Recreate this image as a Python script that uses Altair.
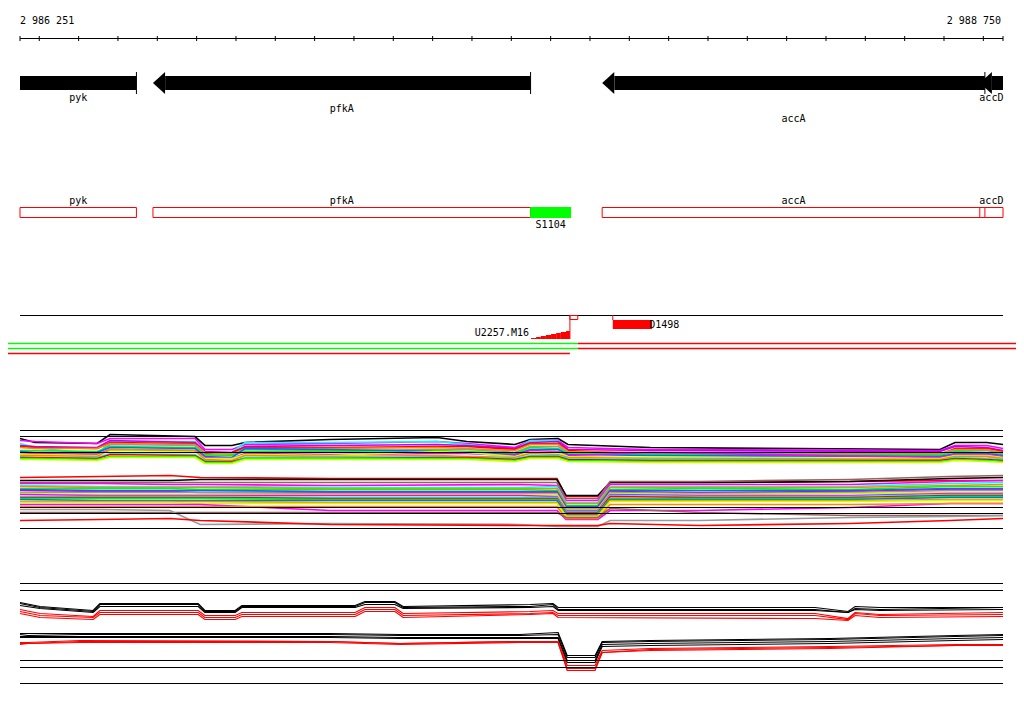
import altair as alt
import pandas as pd

# ---------------- data ----------------
LO = 2986251
HI = 2988750
axis_label_bp = [LO, HI]
axis_label_text = ["2 986 251", "2 988 750"]
tick_bp = [LO] + list(range(2986300, 2988701, 100)) + [HI]

gene_names = ["pyk", "pfkA", "accA", "accD"]
gene_start = [2984789, 2986589, 2987731, 2988691]
gene_end = [2986547, 2987549, 2988704, 2989564]
gene_lane = [0, 1, 2, 0]

seg_names = ["S1104"]
seg_start = [2987548]
seg_end = [2987652]

tss_name = ["U2257.M16"]
tss_left = [2987550, 2987563, 2987575, 2987588, 2987601, 2987614, 2987626, 2987639]
tss_right = [2987563, 2987575, 2987588, 2987601, 2987614, 2987626, 2987639, 2987649]
tss_counts = [1, 2, 3, 4, 5, 6, 7, 8]
tss_pos = [2987649]
tss_box_end = [2987669]

term_name = ["D1498"]
term_start = [2987758]
term_end = [2987858]

cond_split = [2987669]
cond_red_end = [2987649]

# upper expression panel (signal units), knots
up_bp = [2986251, 2986289, 2986447, 2986480, 2986696, 2986721, 2986790, 2986823, 2987039, 2987311,
         2987387, 2987509, 2987548, 2987619, 2987644, 2987853, 2988590, 2988628, 2988709, 2988750]
up_black = [90, 86, 85, 94, 92, 83, 83, 86, 89, 91, 87, 84, 89, 90, 84, 81, 79, 86, 86, 84]
up_magenta = [88, 87, 85, 90, 90, 79, 79, 84, 85, 87, 85, 81, 88, 88, 81, 79, 78, 83, 83, 80]
up_cyan = [85, 81, 74, 87, 87, 76, 76, 86, 86, 87, 84, 79, 88, 88, 70, 69, 69, 72, 72, 69]
up_purple = [83, 82, 81, 88, 86, 77, 76, 82, 83, 84, 83, 80, 86, 87, 79, 78, 77, 82, 81, 78]
up_red = [82, 81, 80, 86, 85, 75, 76, 81, 81, 82, 82, 79, 85, 85, 78, 74, 74, 80, 80, 77]
up_orange = [81, 80, 80, 85, 84, 76, 74, 80, 80, 81, 80, 78, 84, 84, 77, 76, 75, 79, 79, 76]
up_gray = [76, 76, 75, 84, 83, 74, 73, 79, 78, 79, 79, 76, 82, 82, 76, 75, 74, 78, 78, 75]
up_green = [78, 78, 77, 82, 81, 73, 73, 77, 77, 78, 77, 75, 81, 80, 75, 74, 73, 77, 76, 74]
up_blue = [77, 76, 76, 81, 80, 72, 71, 80, 79, 77, 76, 74, 79, 79, 74, 73, 72, 75, 75, 73]
up_magenta2 = [76, 75, 74, 79, 78, 71, 70, 75, 74, 75, 75, 73, 78, 77, 73, 76, 71, 74, 74, 72]
up_lime = [74, 74, 73, 78, 77, 70, 70, 74, 73, 77, 76, 72, 76, 76, 72, 71, 70, 73, 73, 71]
up_orange2 = [73, 73, 72, 79, 78, 69, 68, 73, 72, 73, 72, 71, 75, 74, 71, 70, 69, 72, 72, 70]
up_cyan2 = [72, 71, 71, 75, 74, 68, 67, 71, 71, 72, 71, 70, 73, 73, 70, 69, 68, 71, 70, 69]
up_red2 = [71, 71, 70, 74, 73, 67, 67, 70, 70, 71, 71, 69, 72, 72, 69, 68, 68, 70, 69, 68]
up_green2 = [70, 70, 69, 72, 72, 66, 66, 70, 70, 70, 70, 68, 71, 71, 68, 67, 67, 69, 68, 67]
up_lime2 = [69, 69, 68, 71, 71, 65, 65, 69, 69, 69, 69, 67, 70, 70, 67, 66, 66, 68, 67, 66]

lo_bp = [2986251, 2986454, 2986632, 2986709, 2987039, 2987522, 2987616, 2987639, 2987720, 2987751,
         2987980, 2988361, 2988615, 2988750]
lo_red = [51, 52, 53, 51, 50, 50, 50, 32, 32, 46, 46, 47, 48, 48]
lo_black = [48, 48, 48, 49, 49, 49, 49, 33, 33, 46, 46, 47, 50, 51]
lo_brown = [46, 46, 46, 46, 46, 46, 46, 30, 30, 47, 47, 49, 52, 53]
lo_magenta = [45, 45, 44, 44, 43, 44, 43, 28, 28, 44, 44, 44, 47, 48]
lo_cyan = [43, 42, 42, 42, 41, 41, 42, 26, 26, 42, 42, 42, 45, 46]
lo_orange = [42, 41, 41, 41, 40, 40, 40, 25, 25, 41, 41, 41, 43, 44]
lo_green = [40, 40, 40, 39, 39, 39, 38, 23, 23, 39, 40, 39, 42, 42]
lo_blue = [39, 38, 38, 38, 37, 37, 37, 22, 22, 38, 38, 38, 40, 40]
lo_purple = [38, 37, 37, 36, 36, 36, 36, 21, 21, 37, 36, 37, 39, 39]
lo_gray = [36, 36, 36, 36, 35, 35, 35, 20, 20, 36, 35, 36, 38, 38]
lo_lime = [35, 34, 34, 34, 34, 34, 34, 19, 19, 35, 34, 35, 36, 36]
lo_magenta2 = [34, 33, 33, 33, 33, 33, 32, 18, 18, 34, 33, 33, 35, 35]
lo_cyan2 = [32, 32, 32, 32, 31, 31, 31, 17, 17, 33, 32, 32, 34, 34]
lo_red2 = [31, 31, 31, 31, 30, 30, 30, 16, 16, 32, 31, 31, 33, 33]
lo_green2 = [30, 30, 30, 30, 29, 29, 29, 15, 15, 30, 30, 30, 32, 32]
lo_blue2 = [29, 28, 28, 28, 28, 28, 28, 14, 14, 29, 29, 29, 31, 31]
lo_orange2 = [27, 27, 27, 27, 26, 26, 26, 13, 13, 28, 28, 28, 29, 29]
lo_lime2 = [26, 26, 26, 25, 25, 25, 25, 12, 12, 27, 27, 27, 28, 28]
lo_magenta3 = [24, 24, 24, 24, 18, 18, 18, 9, 9, 18, 18, 21, 25, 25]
lo_orange3 = [22, 22, 22, 22, 22, 22, 22, 10, 10, 24, 24, 24, 25, 25]
lo_brown2 = [16, 16, 16, 16, 16, 16, 16, 11, 11, 20, 16, 13, 13, 13]
lo_gray2 = [19, 19, 18, 4, 5, 4, 2, 2, 2, 8, 8, 11, 12, 13]
lo_red3 = [8, 9, 10, 8, 4, 3, 3, 3, 3, 5, 3, 5, 8, 10]

up_ref_levels = [98, 92, 76, 21, 15, 0]

# bottom panel
ba_bp = [2986251, 2986302, 2986437, 2986454, 2986704, 2986721, 2986798, 2986815, 2987103, 2987128,
         2987204, 2987225, 2987548, 2987606, 2987619, 2988272, 2988356, 2988374, 2988437, 2988750]
ba_black1 = [81, 77, 73, 80, 80, 73, 73, 78, 78, 82, 82, 77, 79, 80, 76, 76, 72, 77, 76, 76]
ba_black2 = [80, 76, 72, 79, 79, 72, 72, 77, 77, 81, 81, 76, 77, 79, 74, 74, 71, 75, 74, 76]
ba_black3 = [78, 75, 71, 77, 77, 71, 71, 76, 76, 79, 79, 75, 76, 77, 73, 73, 71, 74, 73, 74]
ba_red1 = [74, 70, 67, 73, 73, 68, 68, 71, 71, 76, 76, 70, 72, 73, 70, 70, 65, 71, 69, 71]
ba_red2 = [72, 68, 66, 71, 71, 66, 66, 69, 69, 74, 74, 68, 70, 71, 68, 68, 64, 70, 68, 69]
ba_red3 = [70, 66, 64, 69, 69, 64, 64, 67, 67, 72, 72, 66, 69, 70, 66, 65, 63, 68, 66, 67]

bb_bp = [2986251, 2986271, 2986404, 2987039, 2987217, 2987522, 2987619, 2987642, 2987713, 2987731,
         2987853, 2988310, 2988628, 2988750]
bb_black1 = [50, 50, 50, 50, 49, 49, 51, 28, 28, 42, 43, 45, 48, 49]
bb_black2 = [49, 48, 49, 49, 48, 48, 49, 26, 26, 41, 42, 44, 47, 48]
bb_black3 = [47, 47, 47, 47, 46, 46, 46, 23, 23, 39, 40, 42, 45, 46]
bb_black4 = [46, 46, 46, 46, 45, 45, 45, 21, 21, 37, 38, 40, 43, 44]
bb_red1 = [41, 41, 43, 42, 40, 42, 42, 18, 18, 33, 35, 37, 39, 39]
bb_red2 = [39, 40, 41, 41, 39, 41, 41, 15, 15, 31, 33, 35, 38, 38]
bb_red3 = [40, 40, 42, 42, 40, 42, 41, 13, 13, 31, 34, 36, 38, 39]

bottom_ref_levels = [100, 93, 23, 16, 0]

# ---------------- styles ----------------
FONT = "DejaVu Sans Mono"
HEAD_BP = 31  # arrow-head length (12 px) in bp
PAL = {"black": "#000000", "magenta": "#ff00ff", "cyan": "#00ffff", "purple": "#c000ff",
       "red": "#ff0000", "orange": "#ff8800", "gray": "#999999", "green": "#00ff00",
       "blue": "#0070ff", "lime": "#ccff00", "brown": "#9a6060"}

upper_series = [
    ("up_black", up_bp, up_black, "black"), ("up_magenta", up_bp, up_magenta, "magenta"),
    ("up_cyan", up_bp, up_cyan, "cyan"), ("up_purple", up_bp, up_purple, "purple"),
    ("up_red", up_bp, up_red, "red"), ("up_orange", up_bp, up_orange, "orange"),
    ("up_gray", up_bp, up_gray, "gray"), ("up_green", up_bp, up_green, "green"),
    ("up_blue", up_bp, up_blue, "blue"), ("up_magenta2", up_bp, up_magenta2, "magenta"),
    ("up_lime", up_bp, up_lime, "lime"), ("up_orange2", up_bp, up_orange2, "orange"),
    ("up_cyan2", up_bp, up_cyan2, "cyan"), ("up_red2", up_bp, up_red2, "red"),
    ("up_green2", up_bp, up_green2, "green"), ("up_lime2", up_bp, up_lime2, "lime"),
    ("lo_red", lo_bp, lo_red, "red"), ("lo_black", lo_bp, lo_black, "black"),
    ("lo_brown", lo_bp, lo_brown, "brown"), ("lo_magenta", lo_bp, lo_magenta, "magenta"),
    ("lo_cyan", lo_bp, lo_cyan, "cyan"), ("lo_orange", lo_bp, lo_orange, "orange"),
    ("lo_green", lo_bp, lo_green, "green"), ("lo_blue", lo_bp, lo_blue, "blue"),
    ("lo_purple", lo_bp, lo_purple, "purple"), ("lo_gray", lo_bp, lo_gray, "gray"),
    ("lo_lime", lo_bp, lo_lime, "lime"), ("lo_magenta2", lo_bp, lo_magenta2, "magenta"),
    ("lo_cyan2", lo_bp, lo_cyan2, "cyan"), ("lo_red2", lo_bp, lo_red2, "red"),
    ("lo_green2", lo_bp, lo_green2, "green"), ("lo_blue2", lo_bp, lo_blue2, "blue"),
    ("lo_orange2", lo_bp, lo_orange2, "orange"), ("lo_lime2", lo_bp, lo_lime2, "lime"),
    ("lo_magenta3", lo_bp, lo_magenta3, "magenta"), ("lo_orange3", lo_bp, lo_orange3, "orange"),
    ("lo_brown2", lo_bp, lo_brown2, "brown"), ("lo_gray2", lo_bp, lo_gray2, "gray"),
    ("lo_red3", lo_bp, lo_red3, "red"),
]
bottom_series = [
    ("ba_black1", ba_bp, ba_black1, "black"), ("ba_black2", ba_bp, ba_black2, "black"),
    ("ba_black3", ba_bp, ba_black3, "black"), ("ba_red1", ba_bp, ba_red1, "red"),
    ("ba_red2", ba_bp, ba_red2, "red"), ("ba_red3", ba_bp, ba_red3, "red"),
    ("bb_black1", bb_bp, bb_black1, "black"), ("bb_black2", bb_bp, bb_black2, "black"),
    ("bb_black3", bb_bp, bb_black3, "black"), ("bb_black4", bb_bp, bb_black4, "black"),
    ("bb_red1", bb_bp, bb_red1, "red"), ("bb_red2", bb_bp, bb_red2, "red"),
    ("bb_red3", bb_bp, bb_red3, "red"),
]


def series_df(series):
    rows = []
    for order, (name, knots, vals, _) in enumerate(series):
        for b, v in zip(knots, vals):
            rows.append({"bp": b, "v": v, "s": name, "o": order})
    return pd.DataFrame(rows)


xs = alt.Scale(domain=[LO, HI], range=[12, 995], nice=False, zero=False)


def X(f):
    return alt.X(f"{f}:Q", scale=xs, axis=None)


def X2(f):
    return alt.X2(f"{f}:Q")


span = pd.DataFrame({"a": [LO], "b": [HI]})
layers = []

# ---- coordinate ruler ----
layers.append(alt.Chart(span).mark_rule(color="black", strokeWidth=1).encode(
    x=X("a"), x2=X2("b"), y=alt.value(30.5)))
layers.append(alt.Chart(pd.DataFrame({"bp": tick_bp})).mark_rule(color="black", strokeWidth=1).encode(
    x=X("bp"), y=alt.value(28), y2=alt.value(33)))
lab = pd.DataFrame({"bp": axis_label_bp, "t": axis_label_text})
layers.append(alt.Chart(lab.iloc[[0]]).mark_text(font=FONT, fontSize=10, align="left",
                                                 baseline="alphabetic", color="black").encode(
    x=X("bp"), y=alt.value(16), text="t:N"))
layers.append(alt.Chart(lab.iloc[[1]]).mark_text(font=FONT, fontSize=10, align="right", dx=-2,
                                                 baseline="alphabetic", color="black").encode(
    x=X("bp"), y=alt.value(16), text="t:N"))

# ---- genes ----
g = pd.DataFrame({"name": gene_names, "start": gene_start, "end": gene_end, "lane": gene_lane})
g["vis_start"] = g["start"].clip(lower=LO)
g["vis_end"] = g["end"].clip(upper=HI)
g["body_start"] = (g["start"] + HEAD_BP).clip(lower=LO)
g["mid"] = (g["vis_start"] + g["vis_end"]) / 2

layers.append(alt.Chart(g).mark_rect(color="black").encode(
    x=X("body_start"), x2=X2("vis_end"), y=alt.value(68), y2=alt.value(82)))
layers.append(alt.Chart(g[g["start"] >= LO]).mark_point(
    shape="M0,0L1.1,-1L1.1,1Z", size=484, filled=True, color="black", opacity=1, strokeWidth=0).encode(
    x=X("start"), y=alt.value(75)))
layers.append(alt.Chart(g[g["end"] <= HI]).mark_rule(color="black", strokeWidth=1).encode(
    x=X("end"), y=alt.value(64), y2=alt.value(86)))
layers.append(alt.Chart(g).mark_text(font=FONT, fontSize=10, baseline="alphabetic", color="black").encode(
    x=X("mid"), y=alt.Y("lane:Q", scale=alt.Scale(domain=[0, 2], range=[93, 114]), axis=None),
    text="name:N"))

# ---- annotation boxes ----
layers.append(alt.Chart(g).mark_rect(fill="white", fillOpacity=0, stroke="#ff0000", strokeWidth=1).encode(
    x=X("vis_start"), x2=X2("vis_end"), y=alt.value(199.5), y2=alt.value(209.5)))
layers.append(alt.Chart(g).mark_text(font=FONT, fontSize=10, baseline="alphabetic", color="black").encode(
    x=X("mid"), y=alt.value(196), text="name:N"))
sdf = pd.DataFrame({"name": seg_names, "start": seg_start, "end": seg_end})
sdf["mid"] = (sdf["start"] + sdf["end"]) / 2
layers.append(alt.Chart(sdf).mark_rect(color="#00ff00").encode(
    x=X("start"), x2=X2("end"), y=alt.value(199), y2=alt.value(210)))
layers.append(alt.Chart(sdf).mark_text(font=FONT, fontSize=10, baseline="alphabetic", color="black").encode(
    x=X("mid"), y=alt.value(219.7), text="name:N"))

# ---- transcript track ----
layers.append(alt.Chart(span).mark_rule(color="black", strokeWidth=1).encode(
    x=X("a"), x2=X2("b"), y=alt.value(307.5)))
stairs = pd.DataFrame({"l": tss_left, "r": tss_right, "c": tss_counts})
layers.append(alt.Chart(stairs).mark_rect(color="#ff0000").encode(
    x=X("l"), x2=X2("r"),
    y=alt.Y("c:Q", scale=alt.Scale(domain=[0, 8], range=[331, 323]), axis=None), y2=alt.value(331)))
tss = pd.DataFrame({"name": tss_name, "pos": tss_pos, "box": tss_box_end, "first": [tss_left[0]]})
layers.append(alt.Chart(tss).mark_rule(color="#ff0000", strokeWidth=1).encode(
    x=X("pos"), y=alt.value(307), y2=alt.value(331)))
layers.append(alt.Chart(tss).mark_rect(fill="white", fillOpacity=0, stroke="#ff0000", strokeWidth=1).encode(
    x=X("pos"), x2=X2("box"), y=alt.value(307.5), y2=alt.value(311.5)))
layers.append(alt.Chart(tss).mark_text(font=FONT, fontSize=10, align="right", dx=-2,
                                       baseline="alphabetic", color="black").encode(
    x=X("first"), y=alt.value(327.7), text="name:N"))
term = pd.DataFrame({"name": term_name, "s": term_start, "e": term_end})
layers.append(alt.Chart(term).mark_rule(color="#ff0000", strokeWidth=1).encode(
    x=X("s"), y=alt.value(307), y2=alt.value(312)))
layers.append(alt.Chart(term).mark_rect(color="#ff0000").encode(
    x=X("s"), x2=X2("e"), y=alt.value(312), y2=alt.value(321)))
layers.append(alt.Chart(term).mark_text(font=FONT, fontSize=10, align="left", dx=-3,
                                        baseline="alphabetic", color="black").encode(
    x=X("e"), y=alt.value(320), text="name:N"))

# ---- condition bars ----
cdf = pd.DataFrame({"split": cond_split, "rend": cond_red_end})
for yy in (335.5, 340.5):
    layers.append(alt.Chart(cdf).mark_rule(color="#00ff00", strokeWidth=1.3).encode(
        x=X("split"), x2=alt.value(0), y=alt.value(yy)))
    layers.append(alt.Chart(cdf).mark_rule(color="#ff0000", strokeWidth=1.3).encode(
        x=X("split"), x2=alt.value(1008), y=alt.value(yy)))
layers.append(alt.Chart(cdf).mark_rule(color="#ff0000", strokeWidth=1.3).encode(
    x=X("rend"), x2=alt.value(0), y=alt.value(345.5)))

# ---- expression panel (upper) ----
up_scale = alt.Scale(domain=[0, 98], range=[520.5, 422.5], nice=False, zero=False)
up_names = [s[0] for s in upper_series]
up_cols = [PAL[s[3]] for s in upper_series]
up_df = series_df(upper_series)
up_lines = alt.Chart(up_df).mark_line(strokeWidth=1.7, interpolate="linear").encode(
    x=X("bp"), y=alt.Y("v:Q", scale=up_scale, axis=None),
    color=alt.Color("s:N", scale=alt.Scale(domain=up_names, range=up_cols), legend=None),
    order=alt.Order("bp:Q"))
up_ref_df = pd.DataFrame({"a": LO, "b": HI, "v": up_ref_levels})
up_refs = alt.Chart(up_ref_df).mark_rule(color="black", strokeWidth=1).encode(
    x=X("a"), x2=X2("b"), y=alt.Y("v:Q", scale=up_scale, axis=None))
upper_panel = alt.layer(up_lines, up_refs)

# ---- expression panel (bottom) ----
bt_scale = alt.Scale(domain=[0, 100], range=[675.5, 575.5], nice=False, zero=False)
bt_names = [s[0] for s in bottom_series]
bt_cols = [PAL[s[3]] for s in bottom_series]
bt_df = series_df(bottom_series)
bt_lines = alt.Chart(bt_df).mark_line(strokeWidth=1.2, interpolate="linear").encode(
    x=X("bp"), y=alt.Y("v:Q", scale=bt_scale, axis=None),
    color=alt.Color("s:N", scale=alt.Scale(domain=bt_names, range=bt_cols), legend=None),
    order=alt.Order("bp:Q"))
bt_ref_df = pd.DataFrame({"a": LO, "b": HI, "v": bottom_ref_levels})
bt_refs = alt.Chart(bt_ref_df).mark_rule(color="black", strokeWidth=1).encode(
    x=X("a"), x2=X2("b"), y=alt.Y("v:Q", scale=bt_scale, axis=None))
bottom_panel = alt.layer(bt_lines, bt_refs)

layers.append(upper_panel)
layers.append(bottom_panel)

chart = alt.layer(*layers).resolve_scale(y="independent", color="independent").properties(
    width=1008, height=698, autosize=alt.AutoSizeParams(type="none"),
    padding={"left": 0, "top": 0, "right": 0, "bottom": 0},
    view=alt.ViewBackground(stroke=None, strokeWidth=0),
).configure_view(stroke=None, strokeWidth=0).configure(background="white")

chart.save("out.html", embed_options={"renderer": "svg", "actions": False})
